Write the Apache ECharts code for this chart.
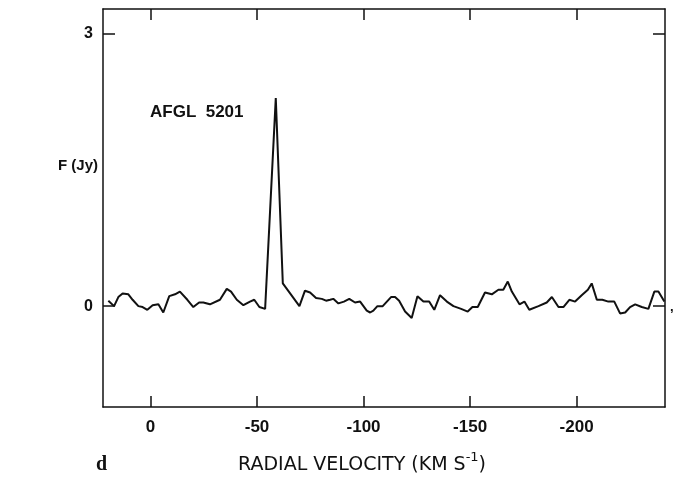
<!DOCTYPE html>
<html>
<head>
<meta charset="utf-8">
<script src="https://cdn.jsdelivr.net/npm/echarts@6/dist/echarts.min.js"></script>
<style>
  html, body { margin: 0; padding: 0; background: #fff; }
  #chart { width: 680px; height: 487px; }
</style>
</head>
<body>
<div id="chart"></div>
<script>
// radial velocity (km/s) and flux density (Jy)
const velocity = [
  19.8, 17.1, 15.1, 13.1, 10.4, 8.4, 5.7, 3.7, 1.5, -1.0,
  -3.7, -6.0, -8.8, -11.5, -13.8, -17.3, -20.1, -22.8, -24.8, -27.9,
  -32.6, -35.8, -37.8, -40.5, -43.6, -46.7, -48.7, -51.1, -53.8, -58.8,
  -62.1, -69.9, -72.5, -74.9, -77.7, -80.4, -82.4, -84.3, -85.8, -88.2,
  -90.8, -93.3, -96.0, -98.4, -101.5, -103.1, -104.6, -106.5, -109.0, -112.9,
  -114.8, -116.7, -119.5, -122.6, -125.3, -128.1, -130.8, -133.2, -135.9, -139.1,
  -142.2, -145.8, -148.9, -151.1, -153.6, -157.0, -160.2, -163.3, -165.6, -167.7,
  -169.6, -173.2, -175.5, -177.8, -182.1, -186.0, -188.4, -191.5, -193.8, -196.6,
  -199.3, -202.4, -205.3, -207.1, -209.5, -212.1, -214.9, -217.7, -220.4, -222.8,
  -225.1, -227.5, -230.6, -233.7, -236.5, -238.4, -241.2
];
const flux = [
  0.06, 0.00, 0.10, 0.14, 0.13, 0.07, 0.00, -0.01, -0.04, 0.01,
  0.02, -0.07, 0.11, 0.13, 0.16, 0.07, -0.01, 0.04, 0.04, 0.02,
  0.07, 0.19, 0.16, 0.07, 0.01, 0.05, 0.07, -0.01, -0.03, 2.29,
  0.25, 0.00, 0.17, 0.15, 0.09, 0.08, 0.06, 0.07, 0.08, 0.03,
  0.05, 0.08, 0.04, 0.05, -0.05, -0.07, -0.05, 0.00, 0.00, 0.10,
  0.10, 0.06, -0.06, -0.13, 0.11, 0.05, 0.05, -0.04, 0.12, 0.05,
  0.00, -0.03, -0.06, -0.01, -0.01, 0.15, 0.13, 0.18, 0.18, 0.27,
  0.16, 0.02, 0.05, -0.04, 0.00, 0.04, 0.10, -0.01, -0.01, 0.07,
  0.05, 0.12, 0.18, 0.25, 0.07, 0.07, 0.05, 0.05, -0.08, -0.07,
  -0.01, 0.02, -0.01, -0.03, 0.16, 0.16, 0.05
];
const xTicks = [0, -50, -100, -150, -200];
const yTicks = [0, 3];

const font = 'Liberation Sans, Arial, sans-serif';
const ink = '#111';

var chart = echarts.init(document.getElementById('chart'));

var xBase = {
  type: 'value',
  min: -241.5,
  max: 22.3,
  inverse: true,
  splitLine: {show: false},
  axisLine: {show: true, onZero: false, lineStyle: {color: ink, width: 1.5}},
  axisTick: {show: true, inside: true, length: 11, customValues: xTicks,
             lineStyle: {color: ink, width: 1.5}}
};
var yBase = {
  type: 'value',
  min: -1.11,
  max: 3.27,
  splitLine: {show: false},
  axisLine: {show: true, onZero: false, lineStyle: {color: ink, width: 1.5}},
  axisTick: {show: true, inside: true, length: 12, customValues: yTicks,
             lineStyle: {color: ink, width: 1.5}}
};

var option = {
  animation: false,
  backgroundColor: '#fff',
  grid: {left: 103, right: 15, top: 9, bottom: 80},
  xAxis: [
    Object.assign({}, xBase, {
      position: 'bottom',
      axisLabel: {
        customValues: xTicks,
        margin: 12, color: ink, fontFamily: font, fontSize: 17, fontWeight: 'bold'
      }
    }),
    Object.assign({}, xBase, {position: 'top', axisLabel: {show: false}})
  ],
  yAxis: [
    Object.assign({}, yBase, {
      position: 'left',
      axisLabel: {
        customValues: yTicks,
        margin: 10, color: ink, fontFamily: font, fontSize: 16, fontWeight: 'bold'
      }
    }),
    Object.assign({}, yBase, {position: 'right', axisLabel: {show: false}})
  ],
  graphic: [
    {type: 'text', left: 150, top: 104,
     style: {text: 'AFGL  5201', fill: ink, font: 'bold 17px ' + font}},
    {type: 'text', left: 58, top: 158,
     style: {text: 'F (Jy)', fill: ink, font: 'bold 15px ' + font}},
    {type: 'text', left: 96, top: 455,
     style: {text: 'd', fill: ink, font: 'bold 20px Liberation Serif, serif'}},
    {type: 'text', left: 238, top: 451,
     style: {
       text: '{t|RADIAL VELOCITY (KM S}{s|-1}{t|)}',
       rich: {
         t: {fill: ink, font: '19px DejaVu Sans, sans-serif', verticalAlign: 'bottom', lineHeight: 24},
         s: {fill: ink, font: '13px DejaVu Sans, sans-serif', verticalAlign: 'top', lineHeight: 24, padding: [0, 0, 9, 0]}
       }
     }},
    {type: 'text', left: 670, top: 301,
     style: {text: ',', fill: ink, font: 'bold 13px ' + font}}
  ],
  series: [{
    type: 'line',
    data: velocity.map(function (v, i) { return [v, flux[i]]; }),
    showSymbol: false,
    symbol: 'none',
    lineStyle: {color: ink, width: 2},
    clip: true
  }]
};

chart.setOption(option);
</script>
</body>
</html>
